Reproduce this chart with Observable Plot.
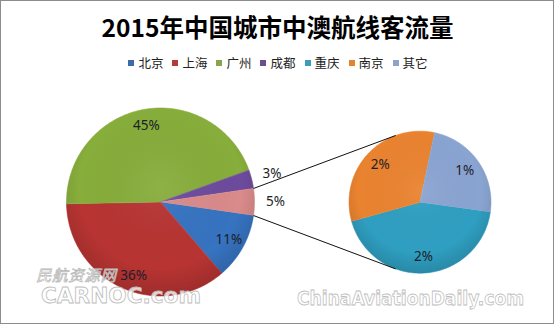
<!DOCTYPE html>
<html><head><meta charset="utf-8">
<script src="https://cdn.jsdelivr.net/npm/d3@7"></script>
<script src="https://cdn.jsdelivr.net/npm/@observablehq/plot@0.6"></script>
<style>
html,body{margin:0;padding:0;background:#fff;}
#frame{position:relative;width:555px;height:324px;overflow:hidden;background:#fff;font-family:"Noto Sans CJK SC","Noto Sans",sans-serif;}
#title{position:absolute;left:0;top:10px;width:555px;text-align:center;font-weight:bold;font-size:24.5px;line-height:34px;color:#000;}
#legend{position:absolute;left:0;top:54px;width:556px;display:flex;justify-content:center;font-size:12.5px;line-height:18px;color:#222;}
#legend .it{display:flex;align-items:center;margin-right:9px;}
#legend .it:last-child{margin-right:0;}
#legend .sw{width:6px;height:6px;margin-right:4px;}
#chart{position:absolute;left:0;top:80px;}
#wm{position:absolute;left:0;top:0;pointer-events:none;}
#border{position:absolute;left:0;top:0;width:552px;height:322px;border:1px solid #8c8c8c;pointer-events:none;}
</style></head>
<body>
<div id="frame">
  <div id="title"></div>
  <div id="legend"></div>
  <div id="chart"></div>
  <svg id="wm" width="555" height="324">
    <g font-family="'Noto Sans CJK SC',sans-serif" fill="#fff" fill-opacity="0.75" stroke="#b8b8b8" stroke-width="0.7">
      <text x="36" y="281" font-size="15.5" font-style="italic" textLength="80">民航资源网</text>
    </g>
    <g font-family="'DejaVu Sans',sans-serif" font-weight="bold" fill="#fff" fill-opacity="0.8" stroke="#bdbdbd" stroke-width="0.8">
      <text x="41" y="303" font-size="21" textLength="160" lengthAdjust="spacingAndGlyphs">CARNOC.com</text>
      <text x="297" y="305" font-size="19" textLength="227" lengthAdjust="spacingAndGlyphs">ChinaAviationDaily.com</text>
    </g>
  </svg>
  <div id="border"></div>
</div>
<script>
// ---- data ----
const titleText = "2015年中国城市中澳航线客流量";
const mainCats = ["北京", "上海", "广州", "成都"];
const mainValues = [11.4, 36.0, 44.8, 3.2];
const secCats = ["重庆", "南京", "其它"];
const secValues = [2.0, 1.5, 1.1];
const otherName = "其他";

// ---- styles ----
const palette = {
  "北京": "#3673c0", "上海": "#b73432", "广州": "#87ad3b", "成都": "#6c4b9c",
  "重庆": "#2f9fc1", "南京": "#ea8330", "其它": "#8aa4d2", "其他": "#d98a8a"
};
const legendPalette = {
  "北京": "#3d6ba8", "上海": "#b33c3a", "广州": "#87a64c", "成都": "#6a4e8e",
  "重庆": "#3b9db6", "南京": "#e4832f", "其它": "#8ea3c8"
};

document.getElementById("title").textContent = titleText;
const legend = d3.select("#legend");
[...mainCats, ...secCats].forEach(c => {
  const it = legend.append("div").attr("class", "it");
  it.append("div").attr("class", "sw").style("background", legendPalette[c]);
  it.append("span").text(c);
});

// ---- geometry ----
const TOP = 80, W = 555, H = 324;
const mainPie = {cx: 160, cy: 201.5, r: 94};
const secPie = {cx: 419.5, cy: 201.7, r: 71};
const rad = a => a * Math.PI / 180;

function buildSlices(names, vals, pie, startDeg, inFrac, outGap, key) {
  const total = d3.sum(vals);
  let a = startDeg;
  const slices = [];
  names.forEach((n, i) => {
    const span = vals[i] / total * 360;
    const a0 = a, a1 = a + span;
    const pts = [{x: pie.cx, y: pie.cy}];
    const steps = Math.max(2, Math.ceil(span));
    for (let k = 0; k <= steps; k++) {
      const t = rad(a0 + (a1 - a0) * k / steps);
      pts.push({x: pie.cx + pie.r * Math.cos(t), y: pie.cy + pie.r * Math.sin(t)});
    }
    const midDeg = (a0 + a1) / 2;
    const outside = span < 20;
    // Excel "best fit" nudges large lower slices' labels toward the vertical
    const mid = rad(span > 120 && midDeg > 90 && midDeg < 180 ? midDeg - 4 : midDeg);
    const lr = outside ? pie.r + outGap : pie.r * inFrac;
    slices.push({name: n, value: vals[i], a0, a1, pts, key: key + i,
      lx: pie.cx + lr * Math.cos(mid), ly: pie.cy + lr * Math.sin(mid),
      label: Math.round(vals[i]) + "%"});
    a = a1;
  });
  return slices;
}

const otherTotal = d3.sum(secValues);
const mainNames = [...mainCats, otherName];
const mainVals = [...mainValues, otherTotal];
const mainTotal = d3.sum(mainVals);
const mainStart = otherTotal / mainTotal * 360 / 2;
const mainSlices = buildSlices(mainNames, mainVals, mainPie, mainStart, 0.83, 21, "m");
const secSlices = buildSlices(secCats, secValues, secPie, 8, 0.77, 21, "s");
// secondary labels show share of grand total
secSlices.forEach((s, i) => s.label = Math.round(secValues[i] / mainTotal * 100) + "%");

const otherSlice = mainSlices[mainSlices.length - 1];
const connAngles = [otherSlice.a0 - 360, otherSlice.a1 - 360];
const secAngles = [-110, 110];
const links = connAngles.map((a, i) => ({
  x1: mainPie.cx + mainPie.r * Math.cos(rad(a)), y1: mainPie.cy + mainPie.r * Math.sin(rad(a)),
  x2: secPie.cx + secPie.r * Math.cos(rad(secAngles[i])), y2: secPie.cy + secPie.r * Math.sin(rad(secAngles[i]))
}));

const all = [...mainSlices, ...secSlices];
const centers = [mainPie, secPie].map(p => ({x: p.cx, y: p.cy, r: p.r}));

const chart = Plot.plot({
  width: W, height: H - TOP, margin: 0,
  x: {domain: [0, W], range: [0, W], axis: null},
  y: {domain: [TOP, H], range: [0, H - TOP], axis: null},
  style: {background: "transparent", overflow: "visible"},
  marks: [
    Plot.dot(centers, {x: d => d.x + 1.5, y: d => d.y + 2.5, r: d => d.r, fill: "#000", fillOpacity: 0.18, stroke: null, className: "shadow"}),
    ...all.map(s => Plot.line(s.pts, {x: "x", y: "y", fill: palette[s.name], stroke: palette[s.name], strokeWidth: 0.6, curve: "linear"})),
    Plot.dot(centers.slice(0,1), {x: "x", y: "y", r: mainPie.r, fill: "url(#gm)", stroke: null}),
    Plot.dot(centers.slice(1), {x: "x", y: "y", r: secPie.r, fill: "url(#gs)", stroke: null}),
    Plot.link(links, {x1: "x1", y1: "y1", x2: "x2", y2: "y2", stroke: "#111", strokeWidth: 1}),
    Plot.text(all, {x: "lx", y: "ly", text: "label", fontSize: 13.5, fill: "#1e1e28", fontFamily: "'Noto Sans',sans-serif"})
  ]
});
document.getElementById("chart").appendChild(chart);

const svg = d3.select(chart);
const defs = svg.insert("defs", ":first-child");
["gm", "gs"].forEach(id => {
  const g = defs.append("radialGradient").attr("id", id).attr("cx", "50%").attr("cy", "42%").attr("r", "58%");
  g.append("stop").attr("offset", "0%").attr("stop-color", "#fff").attr("stop-opacity", 0.06);
  g.append("stop").attr("offset", "75%").attr("stop-color", "#000").attr("stop-opacity", 0.0);
  g.append("stop").attr("offset", "100%").attr("stop-color", "#000").attr("stop-opacity", 0.14);
});
const f = defs.append("filter").attr("id", "blur").attr("x", "-20%").attr("y", "-20%").attr("width", "140%").attr("height", "140%");
f.append("feGaussianBlur").attr("stdDeviation", 2.5);
svg.selectAll(".shadow circle").attr("filter", "url(#blur)");
</script>
</body></html>
